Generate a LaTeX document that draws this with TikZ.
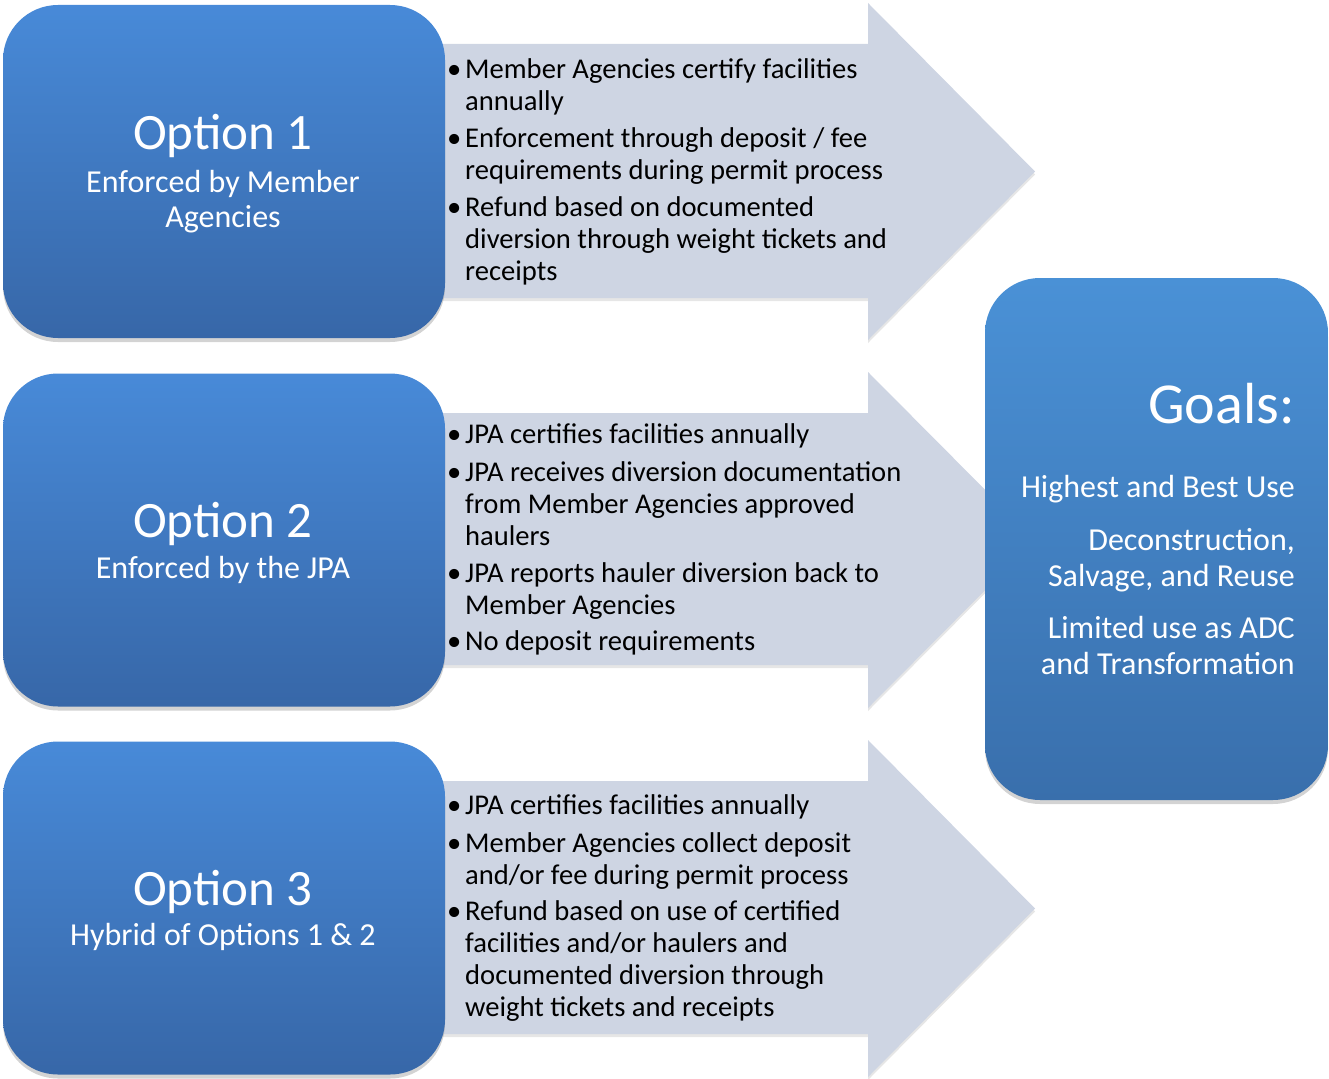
\documentclass[tikz,border=0pt]{standalone}
\usepackage{fontspec}
\setmainfont{Carlito}
\usetikzlibrary{shadows}
\definecolor{boxtop}{RGB}{72,138,216}
\definecolor{boxbot}{RGB}{55,103,168}
\definecolor{goaltop}{RGB}{74,145,214}
\definecolor{goalbot}{RGB}{57,111,172}
\definecolor{arrowfill}{RGB}{206,213,227}
\newcommand{\myb}{\makebox[18pt][l]{\textbullet}}
\newcommand{\myi}{\hspace*{18pt}}
\tikzset{
  optbox/.style={rounded corners=55pt, top color=boxtop, bottom color=boxbot, draw=none,
    drop shadow={opacity=0.35, shadow xshift=0pt, shadow yshift=-4pt},
    minimum width=442pt, minimum height=333pt, inner sep=0pt},
  goalbox/.style={rounded corners=55pt, top color=goaltop, bottom color=goalbot, draw=none,
    drop shadow={opacity=0.35, shadow xshift=0pt, shadow yshift=-4pt},
    minimum width=343pt, minimum height=522pt, inner sep=0pt},
  arrowbody/.style={fill=arrowfill, drop shadow={opacity=0.2, shadow xshift=0pt, shadow yshift=-3pt}},
  titletext/.style={text=white, inner sep=0pt, font=\fontsize{51}{58}\selectfont},
  subtext/.style={text=white, inner sep=0pt, align=center, font=\fontsize{32}{35}\selectfont},
  bullettext/.style={text=black, inner sep=0pt, align=left, font=\fontsize{28.6}{32}\selectfont},
  goaltitle/.style={text=white, inner sep=0pt, font=\fontsize{58}{66}\selectfont},
  goaltext/.style={text=white, inner sep=0pt, align=right, font=\fontsize{32}{36}\selectfont},
}
\begin{document}
\begin{tikzpicture}[x=1pt,y=-1pt]
\useasboundingbox (0,0) rectangle (1329,1078);
% arrows
\path[arrowbody] (440,44) -- (868,44) -- (868,3) -- (1035,171.5) -- (868,340) -- (868,298) -- (440,298) -- cycle;
\path[arrowbody] (440,413) -- (868,413) -- (868,372) -- (1035,540) -- (868,708) -- (868,665) -- (440,665) -- cycle;
\path[arrowbody] (440,781) -- (868,781) -- (868,740) -- (1035,908.5) -- (868,1077) -- (868,1034) -- (440,1034) -- cycle;
% option boxes
\node[optbox] (opt1) at (224,171.5) {};
\node[optbox] (opt2) at (224,540) {};
\node[optbox] (opt3) at (224,908) {};
% goal box
\node[goalbox] (goals) at (1156.5,539) {};
% option texts
\node[titletext, anchor=base] (t1) at (223,150) {Option 1};
\node[subtext, anchor=north] (s1) at (223,167) {\rule{0pt}{25pt}Enforced by Member\\Agencies};
\node[titletext, anchor=base] (t2) at (223,537) {Option 2};
\node[subtext, anchor=base] (s2) at (223,578) {Enforced by the JPA};
\node[titletext, anchor=base] (t3) at (223,905) {Option 3};
\node[subtext, anchor=base] (s3) at (223,945) {Hybrid of Options 1 \& 2};
% bullet texts
\node[bullettext, anchor=north west] (b1) at (447,54) {\rule{0pt}{24pt}\myb Member Agencies certify facilities\\
\myi annually\\[5pt]
\myb Enforcement through deposit / fee\\
\myi requirements during permit process\\[5pt]
\myb Refund based on documented\\
\myi diversion through weight tickets and\\
\myi receipts};
\node[bullettext, anchor=north west] (b2) at (447,419) {\rule{0pt}{24pt}\myb JPA certifies facilities annually\\[6pt]
\myb JPA receives diversion documentation\\
\myi from Member Agencies approved\\
\myi haulers\\[5pt]
\myb JPA reports hauler diversion back to\\
\myi Member Agencies\\[4pt]
\myb No deposit requirements};
\node[bullettext, anchor=north west] (b3) at (447,790) {\rule{0pt}{24pt}\myb JPA certifies facilities annually\\[6pt]
\myb Member Agencies collect deposit\\
\myi and/or fee during permit process\\[4pt]
\myb Refund based on use of certified\\
\myi facilities and/or haulers and\\
\myi documented diversion through\\
\myi weight tickets and receipts};
% goals text
\node[goaltitle, anchor=base east] (gt) at (1295,423) {Goals:};
\node[goaltext, anchor=north east] (gx) at (1295,469) {\rule{0pt}{28pt}Highest and Best Use\\[17pt]
Deconstruction,\\
Salvage, and Reuse\\[16pt]
Limited use as ADC\\
and Transformation};
\end{tikzpicture}
\end{document}
